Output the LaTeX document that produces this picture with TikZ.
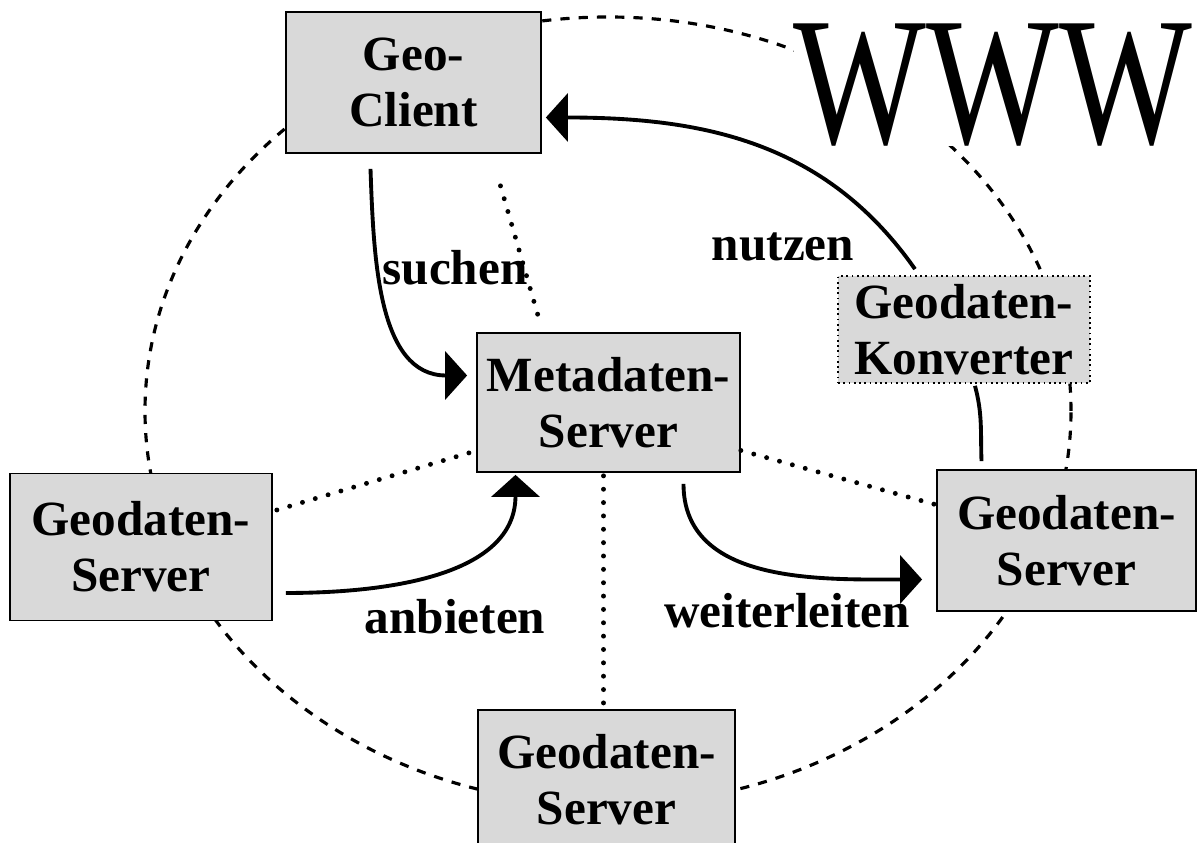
\documentclass[tikz,border=0pt]{standalone}
\usepackage{fontspec}
\setmainfont{Liberation Serif}
\usepackage{graphicx}
\usetikzlibrary{arrows.meta}

\begin{document}
\begin{tikzpicture}[
  box/.style = {draw, line width = 0.5pt, fill = black!15, align = center,
                inner sep = 0pt, font = \bfseries\fontsize{14}{16}\selectfont},
  convbox/.style = {box, densely dotted},
  verb/.style = {font = \bfseries\fontsize{14}{16}\selectfont},
  flow/.style = {line width = 1.1pt, -{Triangle[length = 2.2mm, width = 4.8mm]}},
  link/.style = {line width = 1.4pt, line cap = round, dash pattern = on 0pt off 3.8pt},
  web/.style = {line width = 0.9pt, dash pattern = on 2.6pt off 2.6pt},
  ]
  \useasboundingbox (0,0) rectangle (12,8.43);

  % the web
  \draw[web] (6.08,4.32) ellipse [x radius = 4.63, y radius = 3.94];
  \node[fill = white, inner sep = 0pt, font = \fontsize{52}{52}\selectfont]
    (www) at (9.93,7.58) {\scalebox{0.77}[1]{WWW}};

  % boxes
  \node[box, minimum width = 2.55cm, minimum height = 1.41cm] (client) at (4.135,7.605) {Geo-\\Client};
  \node[box, minimum width = 2.63cm, minimum height = 1.39cm] (meta) at (6.085,4.405) {Metadaten-\\Server};
  \node[box, minimum width = 2.62cm, minimum height = 1.47cm] (srvL) at (1.41,2.96) {Geodaten-\\Server};
  \node[box, minimum width = 2.59cm, minimum height = 1.41cm] (srvR) at (10.665,3.025) {Geodaten-\\Server};
  \node[box, minimum width = 2.57cm, minimum height = 1.40cm] (srvB) at (6.065,0.63) {Geodaten-\\Server};
  \node[convbox, minimum width = 2.52cm, minimum height = 1.07cm] (conv) at (9.64,5.135) {Geodaten-\\Konverter};

  % dotted links to the metadata server
  \draw[link] ([shift = {(0.87,-0.32)}]client.south) -- ([shift = {(-0.68,0.08)}]meta.north);
  \draw[link] ([shift = {(0.04,0.37)}]srvL.east) -- ([shift = {(0.01,-0.48)}]meta.west);
  \draw[link] ([shift = {(0,-0.48)}]meta.east) -- ([shift = {(-0.01,0.36)}]srvR.west);
  \draw[link] ([shift = {(-0.05,-0.03)}]meta.south) -- ([shift = {(-0.03,0.05)}]srvB.north);

  % flows
  \draw[flow] ([shift = {(-0.43,-0.15)}]client.south)
    to[out = -88, in = 180] ([shift = {(-0.09,0.27)}]meta.west);
  \draw[flow] ([shift = {(0.13,-0.46)}]srvL.east)
    to[out = 0, in = -90] ([shift = {(-0.93,-0.02)}]meta.south);
  \draw[flow] ([shift = {(0.75,-0.11)}]meta.south)
    to[out = -90, in = 180] ([shift = {(-0.14,-0.39)}]srvR.west);
  \draw[flow] ([shift = {(-0.49,0.06)}]conv.north)
    to[out = 125, in = 0] ([shift = {(0.04,-0.35)}]client.east);
  \draw[line width = 1.1pt] ([shift = {(0.11,-0.02)}]conv.south)
    to[out = -75, in = 92] ([shift = {(-0.85,0.08)}]srvR.north);

  % labels
  \node[verb] (suchen) at (4.55,5.75) {suchen};
  \node[verb] (anbieten) at (4.55,2.26) {anbieten};
  \node[verb] (weiterleiten) at (7.87,2.32) {weiterleiten};
  \node[verb] (nutzen) at (7.83,5.96) {nutzen};
\end{tikzpicture}
\end{document}
